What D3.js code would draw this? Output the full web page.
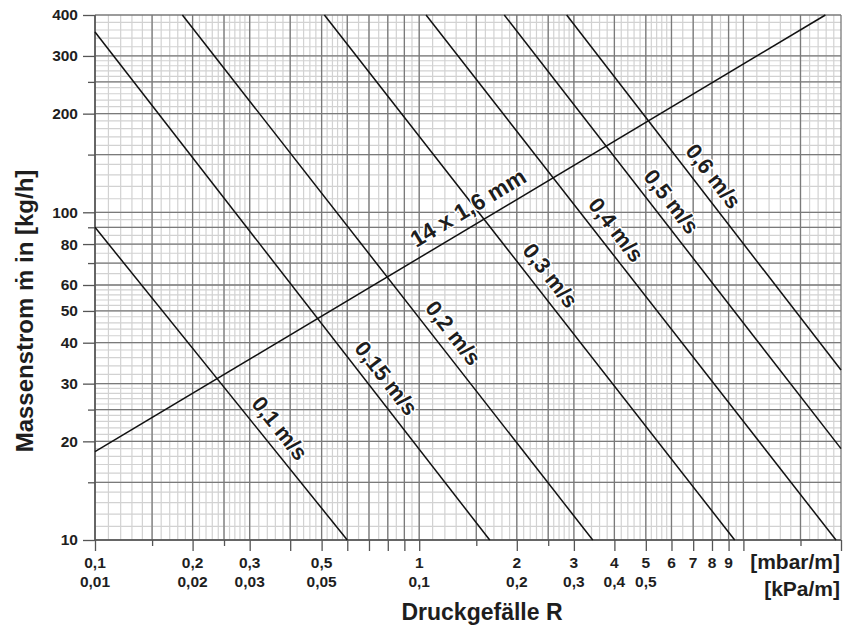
<!DOCTYPE html>
<html>
<head>
<meta charset="utf-8">
<script src="https://cdnjs.cloudflare.com/ajax/libs/d3/7.8.5/d3.min.js"></script>
<style>
  body { margin: 0; background: #fff; }
  text { font-family: "Liberation Sans", Arial, sans-serif; font-weight: bold; fill: #1e1e1e; }
</style>
</head>
<body>
<div id="chart"></div>
<script>
// velocity lines as [R mbar/m, m kg/h] end points
const speedNames = ["0,1 m/s", "0,15 m/s", "0,2 m/s", "0,3 m/s", "0,4 m/s", "0,5 m/s", "0,6 m/s"];
const speedFrom = [[0.1, 90], [0.1, 355], [0.186, 400], [0.51, 400], [1.05, 400], [1.83, 400], [2.85, 400]];
const speedTo = [[0.6, 10], [1.65, 10], [3.43, 10], [9.4, 10], [19.3, 10], [20, 19], [20, 33]];

// pipe characteristic
const pipeName = "14 x 1,6 mm";
const pipeFrom = [0.1, 18.6];
const pipeTo = [17.9, 400];

// grid and tick values
const xMajor = [0.1, 0.15, 0.2, 0.25, 0.3, 0.4, 0.5, 0.6, 0.7, 0.8, 0.9, 1, 1.5, 2, 2.5, 3, 4, 5, 6, 7, 8, 9, 10, 15, 20];
const yMajor = [10, 15, 20, 25, 30, 40, 50, 60, 70, 80, 90, 100, 150, 200, 250, 300, 400];
const xShortTicks = [0.15, 0.25, 1.5, 2.5, 15];
const yTickValues = [10, 20, 30, 40, 50, 60, 80, 100, 200, 300, 400];
const xTickMbar = [0.1, 0.2, 0.3, 0.5, 1, 2, 3, 4, 5, 6, 7, 8, 9];
const xTickMbarText = ["0,1", "0,2", "0,3", "0,5", "1", "2", "3", "4", "5", "6", "7", "8", "9"];
const xTickKpa = [0.1, 0.2, 0.3, 0.5, 1, 2, 3, 4, 5];
const xTickKpaText = ["0,01", "0,02", "0,03", "0,05", "0,1", "0,2", "0,3", "0,4", "0,5"];

// where along each line the label sits (R value)
const speedLabelAt = [0.337, 0.717, 1.154, 2.3, 3.67, 5.43, 7.32];
const pipeLabelAt = 1.51;

const width = 857;
const height = 627;

const svg = d3.select("#chart").append("svg")
  .attr("width", width)
  .attr("height", height);

const x = d3.scaleLog().domain([0.1, 20]).range([95, 841]);
const y = d3.scaleLog().domain([10, 400]).range([540, 15]);

// fine grid lines inside each decade
function minorValues(lo, hi) {
  const out = [];
  for (let dec = lo; dec < hi; dec *= 10) {
    for (let m = 1; m < 10 - 1e-9; ) {
      const step = m < 3 - 1e-9 ? 0.1 : (m < 6 - 1e-9 ? 0.2 : 0.5);
      m = Math.round((m + step) * 100) / 100;
      const v = Math.round(m * dec * 1e6) / 1e6;
      if (v > lo && v < hi) out.push(v);
    }
  }
  return out;
}

const grid = svg.append("g");
grid.selectAll(".xminor")
  .data(minorValues(0.1, 20))
  .enter().append("line")
  .attr("x1", d => x(d)).attr("x2", d => x(d))
  .attr("y1", y(10)).attr("y2", y(400))
  .attr("stroke", "#d2d2d2").attr("stroke-width", 1.2);
grid.selectAll(".yminor")
  .data(minorValues(10, 400))
  .enter().append("line")
  .attr("x1", x(0.1)).attr("x2", x(20))
  .attr("y1", d => y(d)).attr("y2", d => y(d))
  .attr("stroke", "#d2d2d2").attr("stroke-width", 1.2);

grid.selectAll(".xmajor")
  .data(xMajor)
  .enter().append("line")
  .attr("x1", d => x(d)).attr("x2", d => x(d))
  .attr("y1", y(10)).attr("y2", y(400))
  .attr("stroke", "#7a7a7a").attr("stroke-width", 1.3);
grid.selectAll(".ymajor")
  .data(yMajor)
  .enter().append("line")
  .attr("x1", x(0.1)).attr("x2", x(20))
  .attr("y1", d => y(d)).attr("y2", d => y(d))
  .attr("stroke", "#7a7a7a").attr("stroke-width", 1.3);

// axes left / bottom darker
svg.append("line")
  .attr("x1", x(0.1)).attr("x2", x(0.1)).attr("y1", y(10)).attr("y2", y(400))
  .attr("stroke", "#555").attr("stroke-width", 1.6);
svg.append("line")
  .attr("x1", x(0.1)).attr("x2", x(20)).attr("y1", y(10)).attr("y2", y(10))
  .attr("stroke", "#555").attr("stroke-width", 1.6);

// tick marks
const longTicks = xMajor.filter(d => xShortTicks.indexOf(d) < 0);
svg.append("g")
  .attr("transform", "translate(0," + y(10) + ")")
  .call(d3.axisBottom(x).tickValues(longTicks).tickSize(11).tickFormat(""))
  .call(g => g.select(".domain").remove())
  .selectAll("line").attr("stroke", "#555").attr("stroke-width", 1.3);
svg.append("g")
  .attr("transform", "translate(0," + y(10) + ")")
  .call(d3.axisBottom(x).tickValues(xShortTicks).tickSize(6).tickFormat(""))
  .call(g => g.select(".domain").remove())
  .selectAll("line").attr("stroke", "#555").attr("stroke-width", 1.3);

const yAxis = svg.append("g")
  .attr("transform", "translate(" + x(0.1) + ",0)")
  .call(d3.axisLeft(y).tickValues(yTickValues).tickSize(12).tickPadding(5).tickFormat(d3.format("d")));
yAxis.select(".domain").remove();
yAxis.selectAll("line").attr("stroke", "#555").attr("stroke-width", 1.3);
yAxis.selectAll("text")
  .style("font-size", "15.5px")
  .style("font-family", "'Liberation Sans', Arial, sans-serif")
  .style("font-weight", "bold")
  .attr("fill", "#1e1e1e");

svg.append("g")
  .attr("transform", "translate(" + x(0.1) + ",0)")
  .call(d3.axisLeft(y).tickValues(yMajor.filter(d => yTickValues.indexOf(d) < 0)).tickSize(7).tickFormat(""))
  .call(g => g.select(".domain").remove())
  .selectAll("line").attr("stroke", "#555").attr("stroke-width", 1.3);

// bottom tick labels, two rows
svg.append("g").selectAll("text")
  .data(xTickMbar)
  .enter().append("text")
  .attr("x", d => x(d))
  .attr("y", 568)
  .attr("text-anchor", "middle")
  .style("font-size", "15.5px")
  .text((d, i) => xTickMbarText[i]);
svg.append("g").selectAll("text")
  .data(xTickKpa)
  .enter().append("text")
  .attr("x", d => x(d))
  .attr("y", 587)
  .attr("text-anchor", "middle")
  .style("font-size", "15.5px")
  .text((d, i) => xTickKpaText[i]);

svg.append("text")
  .attr("x", 840).attr("y", 569)
  .attr("text-anchor", "end")
  .style("font-size", "21px")
  .text("[mbar/m]");
svg.append("text")
  .attr("x", 840).attr("y", 596)
  .attr("text-anchor", "end")
  .style("font-size", "21px")
  .text("[kPa/m]");

// axis titles
svg.append("text")
  .attr("x", 482).attr("y", 620)
  .attr("text-anchor", "middle")
  .style("font-size", "23px")
  .text("Druckgefälle R");
svg.append("text")
  .attr("transform", "translate(33,311) rotate(-90)")
  .attr("text-anchor", "middle")
  .style("font-size", "24px")
  .text("Massenstrom ṁ in [kg/h]");

// diagonal lines
const lineGen = d3.line().x(d => x(d[0])).y(d => y(d[1]));
const curves = svg.append("g");
curves.selectAll("path")
  .data(speedNames.map((n, i) => [speedFrom[i], speedTo[i]]))
  .enter().append("path")
  .attr("d", lineGen)
  .attr("fill", "none")
  .attr("stroke", "#111")
  .attr("stroke-width", 1.5);
curves.append("path")
  .attr("d", lineGen([pipeFrom, pipeTo]))
  .attr("fill", "none")
  .attr("stroke", "#111")
  .attr("stroke-width", 1.5);

// put a label on a line at R value v, baseline offset off px
function lineLabel(p0, p1, v, name, off, size) {
  const lx0 = Math.log10(p0[0]), lx1 = Math.log10(p1[0]);
  const ly0 = Math.log10(p0[1]), ly1 = Math.log10(p1[1]);
  const lv = Math.log10(v);
  const mv = Math.pow(10, ly0 + (lv - lx0) * (ly1 - ly0) / (lx1 - lx0));
  const ang = Math.atan2(y(p1[1]) - y(p0[1]), x(p1[0]) - x(p0[0])) * 180 / Math.PI;
  svg.append("text")
    .attr("transform", "translate(" + x(v) + "," + y(mv) + ") rotate(" + ang + ")")
    .attr("y", -off)
    .attr("text-anchor", "middle")
    .style("font-size", size + "px")
    .style("stroke", "#fff")
    .style("stroke-width", 3)
    .style("paint-order", "stroke")
    .text(name);
}

speedNames.forEach((n, i) => lineLabel(speedFrom[i], speedTo[i], speedLabelAt[i], n, 10, 22));
lineLabel(pipeFrom, pipeTo, pipeLabelAt, pipeName, 10, 23);
</script>
</body>
</html>
